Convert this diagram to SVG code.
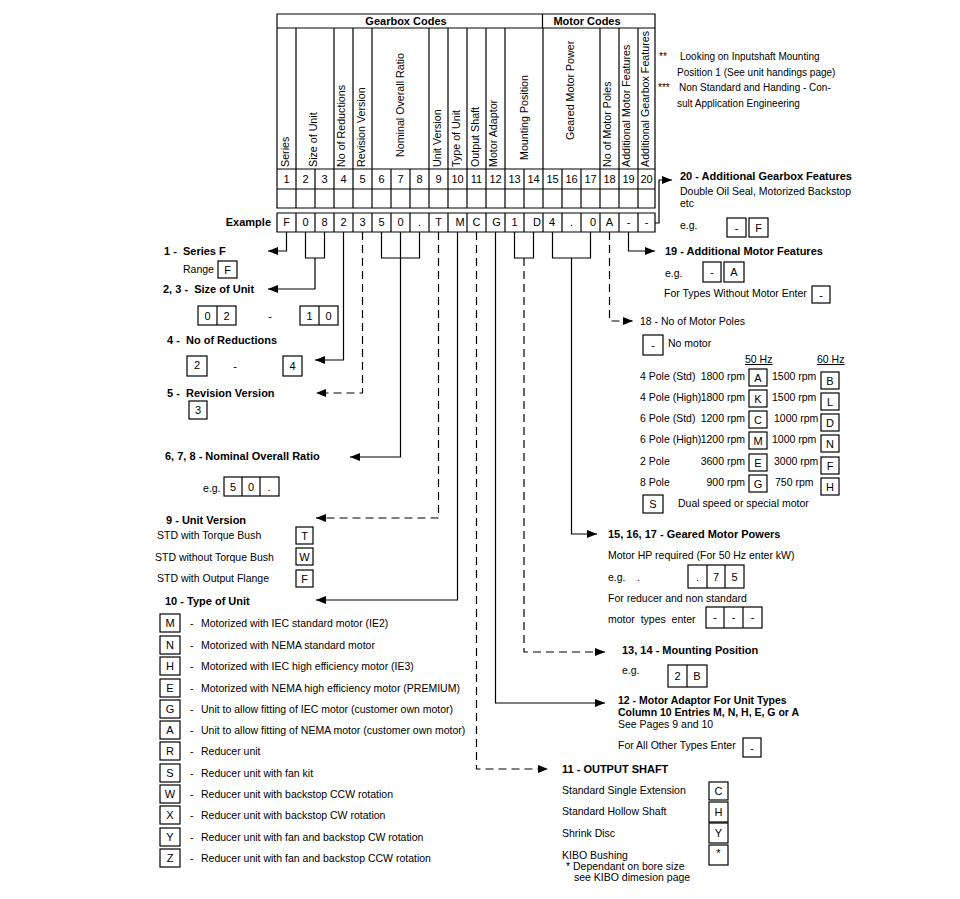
<svg xmlns="http://www.w3.org/2000/svg" width="960" height="899" viewBox="0 0 960 899">
<style>
text{font-family:"Liberation Sans",Arial,sans-serif;font-size:10.5px;fill:#000}
.b{font-weight:bold;font-size:11px}
.b2{font-weight:bold;font-size:10.5px}
.s{font-size:10px}
.c{text-anchor:middle}
.e{text-anchor:end}
.n{font-size:11px}
.v{font-size:10.7px}
.ln{stroke:#000;stroke-width:1.2;fill:none}
.d{stroke-dasharray:8 5}
.bx{fill:none;stroke:#000;stroke-width:1.2}
.u{text-decoration:underline}
</style>
<defs>
<marker id="ar" markerUnits="userSpaceOnUse" markerWidth="11" markerHeight="8" refX="10" refY="4" orient="auto">
<path d="M0,0 L10,4 L0,8 z" fill="#000"/>
</marker>
</defs>
<rect width="960" height="899" fill="#fff"/>

<g id="table">
<path class="ln" d="M277 14 H655 V208 H277 Z M277 28 H655 M542.5 14 V28 M277 169 H655 M277 189 H655"/>
<path class="ln" d="M296 28 V208 M334 28 V208 M353 28 V208 M372 28 V208 M429 28 V208 M448 28 V208 M467 28 V208 M486 28 V208 M505 28 V208 M543 28 V208 M600 28 V208 M619 28 V208 M638 28 V208"/>
<path class="ln" d="M315 169 V208 M391 169 V208 M410 169 V208 M524 169 V208 M562 169 V208 M581 169 V208"/>
<path class="ln" d="M277 213 H655 V232 H277 Z M296 213 V232 M315 213 V232 M334 213 V232 M353 213 V232 M372 213 V232 M391 213 V232 M410 213 V232 M429 213 V232 M448 213 V232 M467 213 V232 M486 213 V232 M505 213 V232 M524 213 V232 M543 213 V232 M562 213 V232 M581 213 V232 M600 213 V232 M619 213 V232 M638 213 V232"/>
<text class="b c" x="406" y="25">Gearbox Codes</text>
<text class="b c" x="587" y="25">Motor Codes</text>
<text class="v" transform="translate(289,167) rotate(-90)">Series</text>
<text class="v" transform="translate(317,167) rotate(-90)">Size of Unit</text>
<text class="v" transform="translate(345,167) rotate(-90)">No of Reductions</text>
<text class="v" transform="translate(365,167) rotate(-90)">Revision Version</text>
<text class="v" transform="translate(404,157) rotate(-90)">Nominal Overall Ratio</text>
<text class="v" transform="translate(441,167) rotate(-90)">Unit Version</text>
<text class="v" transform="translate(460,167) rotate(-90)">Type of Unit</text>
<text class="v" transform="translate(479,167) rotate(-90)">Output Shaft</text>
<text class="v" transform="translate(497,167) rotate(-90)">Motor Adaptor</text>
<text class="v" transform="translate(528,160) rotate(-90)">Mounting Position</text>
<text class="v" transform="translate(574,140) rotate(-90)">Geared Motor Power</text>
<text class="v" transform="translate(611,167) rotate(-90)">No of Motor Poles</text>
<text class="v" transform="translate(630,167) rotate(-90)">Additional Motor Features</text>
<text class="v" transform="translate(649,167) rotate(-90)">Additional Gearbox Features</text>
<text class="n c" x="286.5" y="183">1</text><text class="n c" x="305.5" y="183">2</text><text class="n c" x="324.5" y="183">3</text><text class="n c" x="343.5" y="183">4</text><text class="n c" x="362.5" y="183">5</text><text class="n c" x="381.5" y="183">6</text><text class="n c" x="400.5" y="183">7</text><text class="n c" x="419.5" y="183">8</text><text class="n c" x="438.5" y="183">9</text><text class="n c" x="457.5" y="183">10</text><text class="n c" x="476.5" y="183">11</text><text class="n c" x="495.5" y="183">12</text><text class="n c" x="514.5" y="183">13</text><text class="n c" x="533.5" y="183">14</text><text class="n c" x="552.5" y="183">15</text><text class="n c" x="571.5" y="183">16</text><text class="n c" x="590.5" y="183">17</text><text class="n c" x="609.5" y="183">18</text><text class="n c" x="628.5" y="183">19</text><text class="n c" x="646.5" y="183">20</text>
<text class="b e" x="271" y="226">Example</text>
<text class="n c" x="286.5" y="226">F</text><text class="n c" x="305.5" y="226">0</text><text class="n c" x="324.5" y="226">8</text><text class="n c" x="343.5" y="226">2</text><text class="n c" x="362.5" y="226">3</text><text class="n c" x="381.5" y="226">5</text><text class="n c" x="400.5" y="226">0</text><text class="n c" x="419.5" y="226">.</text><text class="n c" x="438.5" y="226">T</text><text class="n c" x="460" y="226">M</text><text class="n c" x="476.5" y="226">C</text><text class="n c" x="496.5" y="226">G</text><text class="n c" x="514.5" y="226">1</text><text class="n c" x="537" y="226">D</text><text class="n c" x="552" y="226">4</text><text class="n c" x="571.5" y="226">.</text><text class="n c" x="593" y="226">0</text><text class="n c" x="609.5" y="226">A</text><text class="n c" x="628.5" y="226">-</text><text class="n c" x="646.5" y="226">-</text>
</g>

<g id="notes">
<text class="s" x="659" y="60">**</text>
<text class="s" x="680" y="60">Looking on Inputshaft Mounting</text>
<text class="s" x="677" y="76">Position 1 (See unit handings page)</text>
<text class="s" x="658" y="91">***</text>
<text class="s" x="679" y="91">Non Standard and Handing - Con-</text>
<text class="s" x="677" y="107">sult Application Engineering</text>
</g>

<g id="connectors">
<path class="ln" marker-end="url(#ar)" d="M286.5 232 V251 H268"/>
<path class="ln" d="M305.5 232 V258 H324.5 V232"/>
<path class="ln" marker-end="url(#ar)" d="M315 258 V289 H268"/>
<path class="ln" marker-end="url(#ar)" d="M343.5 232 V360 H315"/>
<path class="ln d" marker-end="url(#ar)" d="M362.5 232 V393 H316"/>
<path class="ln" d="M381.5 232 V258 H419.5 V232"/>
<path class="ln" marker-end="url(#ar)" d="M400.5 232 V457 H350"/>
<path class="ln d" marker-end="url(#ar)" d="M438.5 232 V518 H316"/>
<path class="ln" marker-end="url(#ar)" d="M457.5 232 V600 H316"/>
<path class="ln d" marker-end="url(#ar)" d="M476.5 232 V769 H548"/>
<path class="ln" marker-end="url(#ar)" d="M495.5 232 V703 H605"/>
<path class="ln" d="M514.5 232 V258 H533.5 V232"/>
<path class="ln d" marker-end="url(#ar)" d="M524 258 V652 H605"/>
<path class="ln" d="M552.5 232 V258 H590.5 V232"/>
<path class="ln" marker-end="url(#ar)" d="M571.5 258 V534 H597"/>
<path class="ln d" marker-end="url(#ar)" d="M609.5 232 V321 H633"/>
<path class="ln" marker-end="url(#ar)" d="M628.5 232 V251 H655"/>
<path class="ln" marker-end="url(#ar)" d="M655 223 H659 V180 H672"/>
</g>

<g id="n1">
<text class="b" x="164" y="255" xml:space="preserve">1 -  Series F</text>
<text x="183" y="273">Range</text>
<rect class="bx" x="218" y="261" width="19" height="17"/>
<text class="n c" x="227.5" y="274">F</text>
</g>

<g id="n2">
<text class="b" x="163" y="293" xml:space="preserve">2, 3 -  Size of Unit</text>
<rect class="bx" x="198" y="306" width="38" height="19"/><path class="ln" d="M217 306 V325"/>
<text class="n c" x="207.5" y="320">0</text><text class="n c" x="226.5" y="320">2</text>
<text class="n c" x="270" y="320">-</text>
<rect class="bx" x="300" y="306" width="38" height="19"/><path class="ln" d="M319 306 V325"/>
<text class="n c" x="309.5" y="320">1</text><text class="n c" x="328.5" y="320">0</text>
</g>

<g id="n4">
<text class="b" x="167" y="344" xml:space="preserve">4 -  No of Reductions</text>
<rect class="bx" x="187" y="356" width="20" height="20"/>
<text class="n c" x="197" y="369">2</text>
<text class="n c" x="235" y="370">-</text>
<rect class="bx" x="283" y="356" width="19" height="20"/>
<text class="n c" x="292.5" y="370">4</text>
</g>

<g id="n5">
<text class="b" x="167" y="397" xml:space="preserve">5 -  Revision Version</text>
<rect class="bx" x="189" y="401" width="18" height="18"/>
<text class="n c" x="198" y="414">3</text>
</g>

<g id="n6">
<text class="b" x="165" y="460">6, 7, 8 - Nominal Overall Ratio</text>
<text x="203" y="492">e.g.</text>
<rect class="bx" x="224" y="477" width="55" height="19"/><path class="ln" d="M242 477 V496 M260 477 V496"/>
<text class="n c" x="233" y="491">5</text><text class="n c" x="251" y="491">0</text><text class="n c" x="269" y="491">.</text>
</g>

<g id="n9">
<text class="b" x="166" y="524">9 - Unit Version</text>
<text x="157" y="539">STD with Torque Bush</text>
<rect class="bx" x="296" y="527" width="17" height="17"/><text class="n c" x="304.5" y="540">T</text>
<text x="155" y="561">STD without Torque Bush</text>
<rect class="bx" x="296" y="548" width="17" height="17"/><text class="n c" x="304.5" y="561">W</text>
<text x="157" y="582">STD with Output Flange</text>
<rect class="bx" x="296" y="570" width="17" height="17"/><text class="n c" x="304.5" y="583">F</text>
</g>

<g id="n10">
<text class="b" x="165" y="605">10 - Type of Unit</text>
<rect class="bx" x="160" y="614" width="20" height="18"/><text class="n c" x="170" y="627">M</text><text x="190" y="627">-</text><text x="201" y="627">Motorized with IEC standard motor (IE2)</text>
<rect class="bx" x="160" y="636" width="20" height="18"/><text class="n c" x="170" y="649">N</text><text x="190" y="649">-</text><text x="201" y="649">Motorized with NEMA standard motor</text>
<rect class="bx" x="160" y="657" width="20" height="18"/><text class="n c" x="170" y="670">H</text><text x="190" y="670">-</text><text x="201" y="670">Motorized with IEC high efficiency motor (IE3)</text>
<rect class="bx" x="160" y="679" width="20" height="18"/><text class="n c" x="170" y="692">E</text><text x="190" y="692">-</text><text x="201" y="692">Motorized with NEMA high efficiency motor (PREMIUM)</text>
<rect class="bx" x="160" y="700" width="20" height="18"/><text class="n c" x="170" y="713">G</text><text x="190" y="713">-</text><text x="201" y="713">Unit to allow fitting of IEC motor (customer own motor)</text>
<rect class="bx" x="160" y="721" width="20" height="18"/><text class="n c" x="170" y="734">A</text><text x="190" y="734">-</text><text x="201" y="734">Unit to allow fitting of NEMA motor (customer own motor)</text>
<rect class="bx" x="160" y="742" width="20" height="18"/><text class="n c" x="170" y="755">R</text><text x="190" y="755">-</text><text x="201" y="755">Reducer unit</text>
<rect class="bx" x="160" y="764" width="20" height="18"/><text class="n c" x="170" y="777">S</text><text x="190" y="777">-</text><text x="201" y="777">Reducer unit with fan kit</text>
<rect class="bx" x="160" y="785" width="20" height="18"/><text class="n c" x="170" y="798">W</text><text x="190" y="798">-</text><text x="201" y="798">Reducer unit with backstop CCW rotation</text>
<rect class="bx" x="160" y="806" width="20" height="18"/><text class="n c" x="170" y="819">X</text><text x="190" y="819">-</text><text x="201" y="819">Reducer unit with backstop CW rotation</text>
<rect class="bx" x="160" y="828" width="20" height="18"/><text class="n c" x="170" y="841">Y</text><text x="190" y="841">-</text><text x="201" y="841">Reducer unit with fan and backstop CW rotation</text>
<rect class="bx" x="160" y="849" width="20" height="18"/><text class="n c" x="170" y="862">Z</text><text x="190" y="862">-</text><text x="201" y="862">Reducer unit with fan and backstop CCW rotation</text>
</g>

<g id="n20">
<text class="b" x="680" y="180">20 - Additional Gearbox Features</text>
<text x="680" y="195">Double Oil Seal, Motorized Backstop</text>
<text x="680" y="207">etc</text>
<text x="680" y="229">e.g.</text>
<rect class="bx" x="727" y="218" width="19" height="19"/><text class="n c" x="736.5" y="232">-</text>
<rect class="bx" x="749" y="218" width="19" height="19"/><text class="n c" x="758.5" y="232">F</text>
</g>

<g id="n19">
<text class="b" x="665" y="255">19 - Additional Motor Features</text>
<text x="665" y="277">e.g.</text>
<rect class="bx" x="703" y="262" width="18" height="20"/><text class="n c" x="712" y="276">-</text>
<rect class="bx" x="724" y="262" width="20" height="20"/><text class="n c" x="734" y="276">A</text>
<text x="664" y="297">For Types Without Motor Enter</text>
<rect class="bx" x="812" y="286" width="18" height="17"/><text class="n c" x="821" y="299">-</text>
</g>

<g id="n18">
<text x="640" y="325">18 - No of Motor Poles</text>
<rect class="bx" x="643" y="335" width="20" height="20"/><text class="n c" x="653" y="349">-</text>
<text x="668" y="347">No motor</text>
<text class="u" x="745" y="363">50 Hz</text>
<text class="u" x="817" y="363">60 Hz</text>
<text x="640" y="380">4 Pole (Std)</text><text class="e" x="745" y="380">1800 rpm</text>
<rect class="bx" x="749" y="369" width="18" height="17"/><text class="n c" x="758" y="382">A</text>
<text x="772" y="380">1500 rpm</text>
<rect class="bx" x="821" y="372" width="18" height="17"/><text class="n c" x="830" y="385">B</text>
<text x="640" y="401">4 Pole (High)</text><text class="e" x="745" y="401">1800 rpm</text>
<rect class="bx" x="749" y="390" width="18" height="17"/><text class="n c" x="758" y="403">K</text>
<text x="772" y="401">1500 rpm</text>
<rect class="bx" x="821" y="393" width="18" height="17"/><text class="n c" x="830" y="406">L</text>
<text x="640" y="422">6 Pole (Std)</text><text class="e" x="745" y="422">1200 rpm</text>
<rect class="bx" x="749" y="411" width="18" height="17"/><text class="n c" x="758" y="424">C</text>
<text x="774" y="422">1000 rpm</text>
<rect class="bx" x="821" y="414" width="18" height="17"/><text class="n c" x="830" y="427">D</text>
<text x="640" y="443">6 Pole (High)</text><text class="e" x="745" y="443">1200 rpm</text>
<rect class="bx" x="749" y="432" width="18" height="17"/><text class="n c" x="758" y="445">M</text>
<text x="772" y="443">1000 rpm</text>
<rect class="bx" x="821" y="435" width="18" height="17"/><text class="n c" x="830" y="448">N</text>
<text x="640" y="465">2 Pole</text><text class="e" x="745" y="465">3600 rpm</text>
<rect class="bx" x="749" y="454" width="18" height="17"/><text class="n c" x="758" y="467">E</text>
<text x="774" y="465">3000 rpm</text>
<rect class="bx" x="821" y="457" width="18" height="17"/><text class="n c" x="830" y="470">F</text>
<text x="640" y="486">8 Pole</text><text class="e" x="745" y="486">900 rpm</text>
<rect class="bx" x="749" y="475" width="18" height="17"/><text class="n c" x="758" y="488">G</text>
<text x="775" y="486">750 rpm</text>
<rect class="bx" x="821" y="478" width="18" height="17"/><text class="n c" x="830" y="491">H</text>
<rect class="bx" x="643" y="495" width="20" height="18"/><text class="n c" x="653" y="508">S</text>
<text x="678" y="507">Dual speed or special motor</text>
</g>

<g id="n15">
<text class="b" x="608" y="538">15, 16, 17 - Geared Motor Powers</text>
<text x="608" y="559">Motor HP required (For 50 Hz enter kW)</text>
<text x="608" y="581">e.g.</text><text x="637" y="581">.</text>
<rect class="bx" x="688" y="565" width="56" height="23"/><path class="ln" d="M707 565 V588 M725 565 V588"/>
<text class="n c" x="697.5" y="581">.</text><text class="n c" x="716" y="581">7</text><text class="n c" x="734.5" y="581">5</text>
<text x="608" y="602">For reducer and non standard</text>
<text x="608" y="623" xml:space="preserve">motor  types  enter</text>
<rect class="bx" x="706" y="607" width="56" height="21"/><path class="ln" d="M724 607 V628 M743 607 V628"/>
<text class="n c" x="715" y="621">-</text><text class="n c" x="733.5" y="621">-</text><text class="n c" x="752.5" y="621">-</text>
</g>

<g id="n13">
<text class="b" x="622" y="654">13, 14 - Mounting Position</text>
<text x="622" y="674">e.g.</text>
<rect class="bx" x="668" y="665" width="39" height="22"/><path class="ln" d="M687 665 V687"/>
<text class="n c" x="677.5" y="680">2</text><text class="n c" x="697" y="680">B</text>
</g>

<g id="n12">
<text class="b2" x="618" y="704">12 - Motor Adaptor For Unit Types</text>
<text class="b2" x="618" y="716">Column 10 Entries M, N, H, E, G or A</text>
<text x="618" y="728">See Pages 9 and 10</text>
<text x="618" y="749">For All Other Types Enter</text>
<rect class="bx" x="743" y="738" width="18" height="19"/><text class="n c" x="752" y="752">-</text>
</g>

<g id="n11">
<text class="b" x="562" y="773">11 - OUTPUT SHAFT</text>
<text x="562" y="794">Standard Single Extension</text>
<rect class="bx" x="709" y="782" width="19" height="18"/><text class="n c" x="718.5" y="795">C</text>
<text x="562" y="815">Standard Hollow Shaft</text>
<rect class="bx" x="709" y="802" width="19" height="20"/><text class="n c" x="718.5" y="816">H</text>
<text x="562" y="837">Shrink Disc</text>
<rect class="bx" x="709" y="823" width="19" height="20"/><text class="n c" x="718.5" y="837">Y</text>
<text x="562" y="859">KIBO Bushing</text>
<rect class="bx" x="709" y="845" width="19" height="20"/><text class="n c" x="718.5" y="857">*</text>
<text x="566" y="870">* Dependant on bore size</text>
<text x="574" y="881">see KIBO dimesion page</text>
</g>
</svg>
